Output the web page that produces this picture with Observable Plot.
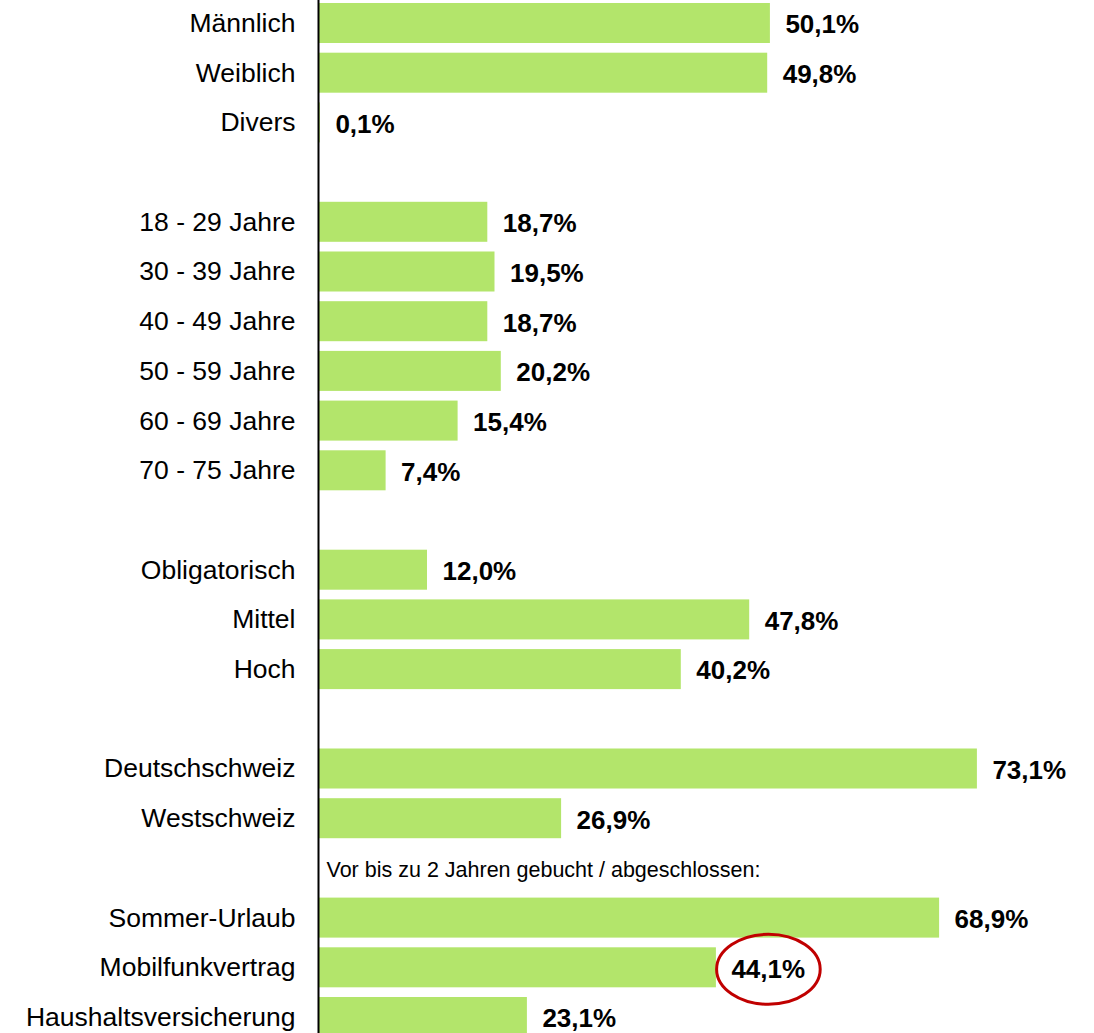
<!DOCTYPE html>
<html>
<head>
<meta charset="utf-8">
<script src="https://cdn.jsdelivr.net/npm/d3@7"></script>
<script src="https://cdn.jsdelivr.net/npm/@observablehq/plot@0.6"></script>
<style>
  html, body { margin: 0; padding: 0; background: #fff; overflow: hidden; }
  #chart svg { display: block; }
</style>
</head>
<body>
<div id="chart"></div>
<script>
// ---- Data ----
const genderLabels = ["Männlich", "Weiblich", "Divers"];
const genderValues = [50.1, 49.8, 0.1];

const ageLabels = ["18 - 29 Jahre", "30 - 39 Jahre", "40 - 49 Jahre", "50 - 59 Jahre", "60 - 69 Jahre", "70 - 75 Jahre"];
const ageValues = [18.7, 19.5, 18.7, 20.2, 15.4, 7.4];

const eduLabels = ["Obligatorisch", "Mittel", "Hoch"];
const eduValues = [12.0, 47.8, 40.2];

const regionLabels = ["Deutschschweiz", "Westschweiz"];
const regionValues = [73.1, 26.9];

const noteText = "Vor bis zu 2 Jahren gebucht / abgeschlossen:";
const bookedLabels = ["Sommer-Urlaub", "Mobilfunkvertrag", "Haushaltsversicherung"];
const bookedValues = [68.9, 44.1, 23.1];

const highlighted = "Mobilfunkvertrag";

// ---- Build rows (with spacer rows between groups) ----
const groups = [
  [genderLabels, genderValues],
  [ageLabels, ageValues],
  [eduLabels, eduValues],
  [regionLabels, regionValues],
  [bookedLabels, bookedValues]
];
const rows = [];
const domain = [];
groups.forEach(([labels, values], gi) => {
  if (gi > 0) {
    const key = gi === groups.length - 1 ? "__note" : "__gap" + gi;
    domain.push(key);
  }
  labels.forEach((l, i) => { domain.push(l); rows.push({label: l, value: values[i]}); });
});

const fmt = v => v.toFixed(1).replace(".", ",") + "%";
const font = "Arial, 'Liberation Sans', Helvetica, sans-serif";

// Ellipse symbol for highlight
const ellipseSymbol = {
  draw(context, size) {
    const r = Math.sqrt(size / Math.PI);
    const rx = r * 1.48, ry = r, k = 0.5523;
    context.moveTo(rx, 0);
    context.bezierCurveTo(rx, k * ry, k * rx, ry, 0, ry);
    context.bezierCurveTo(-k * rx, ry, -rx, k * ry, -rx, 0);
    context.bezierCurveTo(-rx, -k * ry, -k * rx, -ry, 0, -ry);
    context.bezierCurveTo(k * rx, -ry, rx, -k * ry, rx, 0);
    context.closePath();
  }
};

const W = 1094, H = 1033, ML = 319;
const chart = Plot.plot({
  width: W,
  height: H,
  marginLeft: ML,
  marginRight: 0,
  marginTop: 0,
  marginBottom: 0,
  style: {fontFamily: font, background: "#fff", overflow: "visible"},
  x: {domain: [0, (W - ML) / 9], axis: null},
  y: {domain, range: [-6.7, 1046.7], padding: 0.195, round: false, axis: null},
  marks: [
    Plot.barX(rows, {x: "value", y: "label", fill: "#b3e56b"}),
    Plot.ruleX([0], {stroke: "#000", strokeWidth: 2, dx: -1}),
    Plot.text(rows, {
      x: 0, y: "label", text: "label", textAnchor: "end", dx: -24, dy: 0,
      fontSize: 26.5, fill: "#000"
    }),
    Plot.text(rows, {
      x: "value", y: "label", text: d => fmt(d.value), textAnchor: "start",
      dx: 15, dy: 1.5, fontSize: 26, fontWeight: "bold", fill: "#000"
    }),
    Plot.text([noteText], {
      x: 0, y: () => "__note", text: d => d, textAnchor: "start",
      dx: 7, dy: 2, fontSize: 21.5, fill: "#000"
    }),
    Plot.dot(rows.filter(d => d.label === highlighted), {
      x: "value", y: "label", dx: 52, dy: 1.5, r: 35, symbol: ellipseSymbol,
      fill: "none", stroke: "#c00000", strokeWidth: 3
    })
  ]
});
document.getElementById("chart").append(chart);
</script>
</body>
</html>
